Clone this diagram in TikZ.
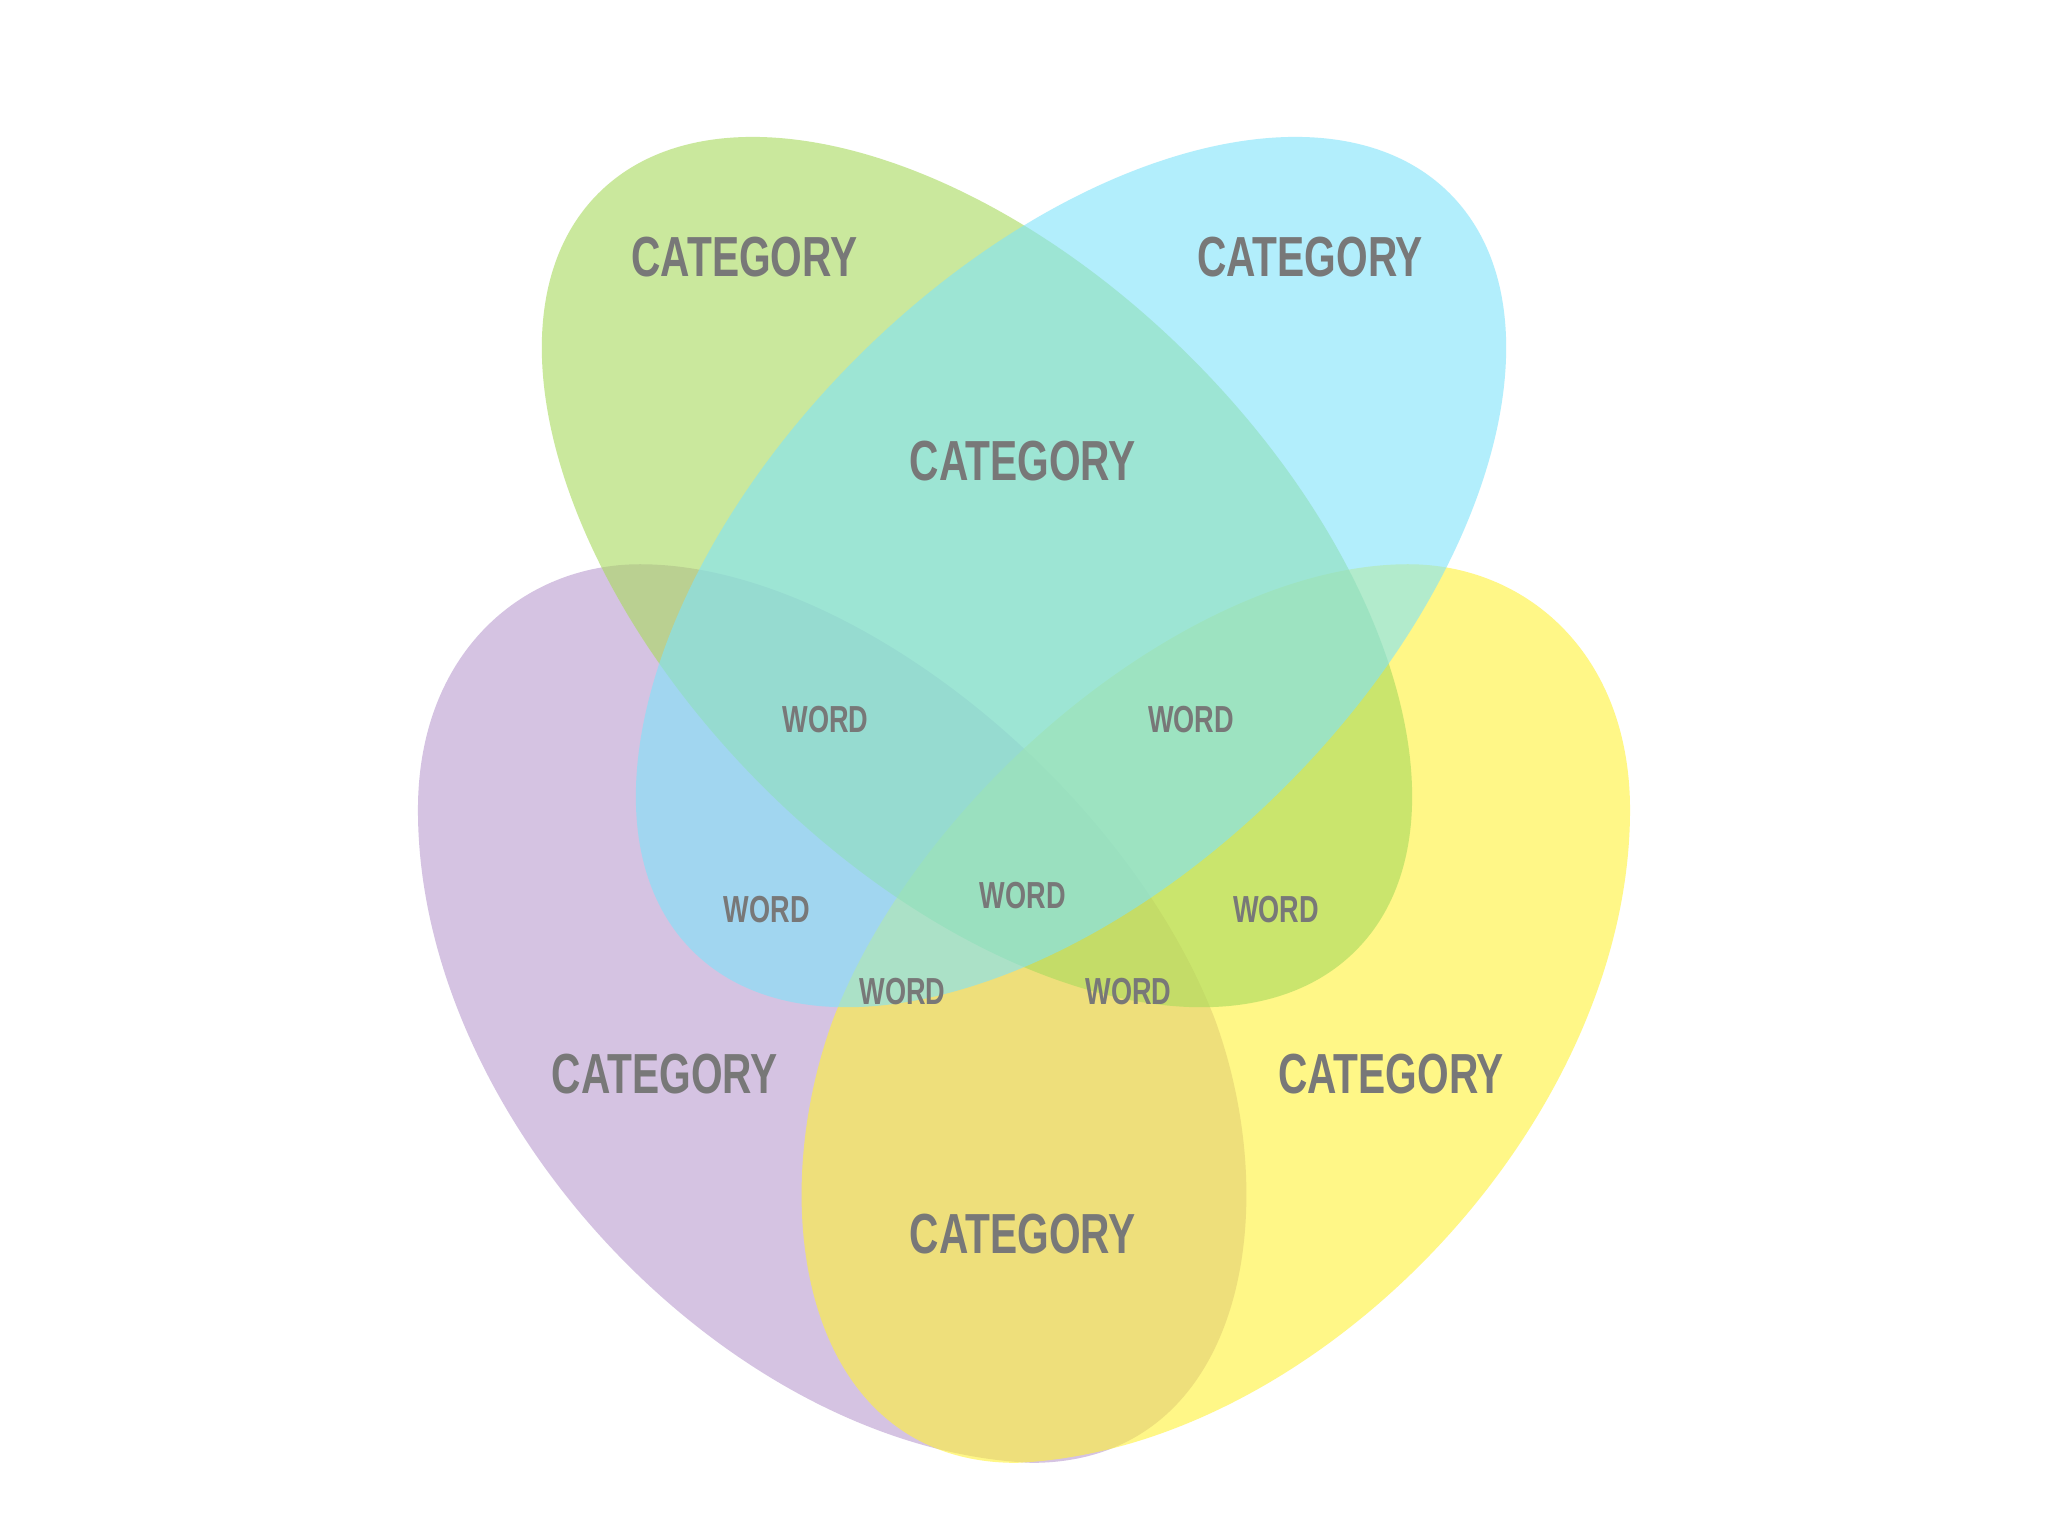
\documentclass[tikz,border=0pt]{standalone}
\usepackage{fontspec}
\newfontfamily\labfont[FakeStretch=0.72]{Liberation Sans}
\definecolor{cpurple}{RGB}{185,155,208}
\definecolor{cyellow}{RGB}{255,242,55}
\definecolor{cgreen}{RGB}{168,218,92}
\definecolor{cblue}{RGB}{127,227,250}
\definecolor{tgray}{RGB}{120,120,120}
\tikzset{
  blob/.style={fill opacity=0.6, draw=none},
  cat/.style={text=tgray, font=\labfont\bfseries\fontsize{12.3}{14}\selectfont},
  word/.style={text=tgray, font=\labfont\bfseries\fontsize{8.2}{10}\selectfont}
}
\begin{document}
\begin{tikzpicture}[x=0.01cm,y=-0.01cm]
\useasboundingbox[fill=white] (0,0) rectangle (1568,1176);
% purple
\fill[blob,cpurple] (790,1120) .. controls (560,1110) and (320,860) .. (320,620)
  .. controls (320,500) and (400,432) .. (490,432)
  .. controls (650,432) and (860,600) .. (930,780)
  .. controls (985,930) and (950,1120) .. (790,1120) -- cycle;
% yellow
\fill[blob,cyellow] (778,1120) .. controls (1008,1110) and (1248,860) .. (1248,620)
  .. controls (1248,500) and (1168,432) .. (1078,432)
  .. controls (918,432) and (708,600) .. (638,780)
  .. controls (583,930) and (618,1120) .. (778,1120) -- cycle;
% green
\fill[blob,cgreen,rotate around={-45:(748,438)}] (748,438) ellipse (410 and 232);
% blue
\fill[blob,cblue,rotate around={45:(820,438)}] (820,438) ellipse (410 and 232);
\node[cat] (c1) at (570,197) {CATEGORY};
\node[cat] (c2) at (1003,197) {CATEGORY};
\node[cat] (c3) at (783,353) {CATEGORY};
\node[cat] (c4) at (509,822) {CATEGORY};
\node[cat] (c5) at (1065,822) {CATEGORY};
\node[cat] (c6) at (783,945) {CATEGORY};
\node[word] (w1) at (632,551) {WORD};
\node[word] (w2) at (912,551) {WORD};
\node[word] (w3) at (587,696) {WORD};
\node[word] (w4) at (783,686) {WORD};
\node[word] (w5) at (977,696) {WORD};
\node[word] (w6) at (691,759) {WORD};
\node[word] (w7) at (864,759) {WORD};
\end{tikzpicture}
\end{document}
